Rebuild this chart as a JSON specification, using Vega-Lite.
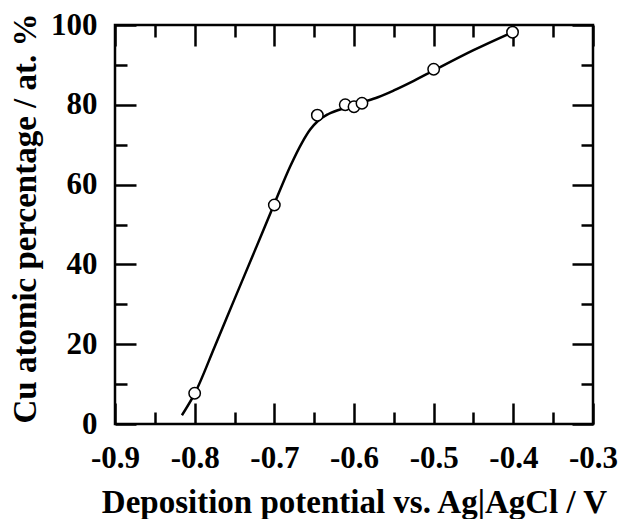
{
  "$schema": "https://vega.github.io/schema/vega-lite/v6.json",
  "width": 478,
  "height": 399,
  "autosize": "none",
  "padding": {"left": 115, "top": 25, "right": 28, "bottom": 95},
  "background": "white",
  "config": {
    "view": {"stroke": "black", "strokeWidth": 2.5},
    "axis": {"grid": false, "domain": false, "tickColor": "black", "tickWidth": 2.5, "labelColor": "black", "titleColor": "black", "labelFont": "serif", "titleFont": "'Liberation Serif'", "labelFontWeight": "bold", "titleFontWeight": "bold", "labelFontSize": 31, "titleFontSize": 33, "labelFlush": false, "labelOverlap": false, "labelBound": false}
  },
  "datasets": {
    "curve": [
      {"x": -0.816, "y": 2.2}, {"x": -0.8, "y": 7.6}, {"x": -0.775, "y": 19.3}, {"x": -0.75, "y": 31.3},
      {"x": -0.725, "y": 43.2}, {"x": -0.7, "y": 55.2}, {"x": -0.68, "y": 64.6}, {"x": -0.665, "y": 70.6},
      {"x": -0.655, "y": 73.8}, {"x": -0.645, "y": 76.0}, {"x": -0.632, "y": 77.7}, {"x": -0.61, "y": 79.3},
      {"x": -0.59, "y": 80.6}, {"x": -0.57, "y": 81.9}, {"x": -0.55, "y": 83.6}, {"x": -0.525, "y": 86.0},
      {"x": -0.5, "y": 88.6}, {"x": -0.45, "y": 93.7}, {"x": -0.4, "y": 98.3}
    ],
    "points": [
      {"x": -0.8, "y": 7.7}, {"x": -0.7, "y": 54.9}, {"x": -0.646, "y": 77.4}, {"x": -0.611, "y": 80.0},
      {"x": -0.6, "y": 79.5}, {"x": -0.59, "y": 80.4}, {"x": -0.5, "y": 88.9}, {"x": -0.401, "y": 98.2}
    ]
  },
  "resolve": {"axis": {"x": "independent", "y": "independent"}},
  "layer": [
    {
      "data": {"name": "curve"},
      "mark": {"type": "line", "color": "black", "strokeWidth": 2.5, "interpolate": "monotone"},
      "encoding": {
        "x": {"field": "x", "type": "quantitative", "scale": {"domain": [-0.9, -0.3], "nice": false, "zero": false},
          "axis": {"orient": "bottom", "values": [-0.9, -0.8, -0.7, -0.6, -0.5, -0.4, -0.3], "labelExpr": "datum.value < 0 ? '-' + format(-datum.value, '.1f') : format(datum.value, '.1f')", "tickSize": -21, "labelPadding": 40,
            "title": "Deposition potential vs. Ag|AgCl / V", "titleY": 88, "titleBaseline": "alphabetic"}},
        "y": {"field": "y", "type": "quantitative", "scale": {"domain": [0, 100], "nice": false},
          "axis": {"orient": "left", "values": [0, 20, 40, 60, 80, 100], "tickSize": -21, "labelPadding": 39,
            "title": "Cu atomic percentage / at. %", "titleFont": "Times New Roman", "titleX": -80, "titleY": 193, "titleAngle": 270, "titleBaseline": "alphabetic", "titleAlign": "center"}}
      }
    },
    {
      "data": {"name": "points"},
      "mark": {"type": "point", "shape": "circle", "filled": true, "fill": "white", "stroke": "black", "strokeWidth": 1.5, "size": 130, "opacity": 1},
      "encoding": {
        "x": {"field": "x", "type": "quantitative", "axis": {"orient": "top", "values": [-0.9, -0.8, -0.7, -0.6, -0.5, -0.4, -0.3], "tickSize": -21, "labels": false, "title": null}},
        "y": {"field": "y", "type": "quantitative", "axis": {"orient": "right", "values": [0, 20, 40, 60, 80, 100], "tickSize": -21, "labels": false, "title": null}}
      }
    },
    {
      "data": {"name": "points"},
      "mark": {"type": "point", "opacity": 0},
      "encoding": {
        "x": {"field": "x", "type": "quantitative", "axis": {"orient": "bottom", "values": [-0.85, -0.75, -0.65, -0.55, -0.45, -0.35], "tickSize": -12, "labels": false, "title": null}},
        "y": {"field": "y", "type": "quantitative", "axis": {"orient": "left", "values": [10, 30, 50, 70, 90], "tickSize": -12, "labels": false, "title": null}}
      }
    },
    {
      "data": {"name": "points"},
      "mark": {"type": "point", "opacity": 0},
      "encoding": {
        "x": {"field": "x", "type": "quantitative", "axis": {"orient": "top", "values": [-0.85, -0.75, -0.65, -0.55, -0.45, -0.35], "tickSize": -12, "labels": false, "title": null}},
        "y": {"field": "y", "type": "quantitative", "axis": {"orient": "right", "values": [10, 30, 50, 70, 90], "tickSize": -12, "labels": false, "title": null}}
      }
    }
  ]
}
